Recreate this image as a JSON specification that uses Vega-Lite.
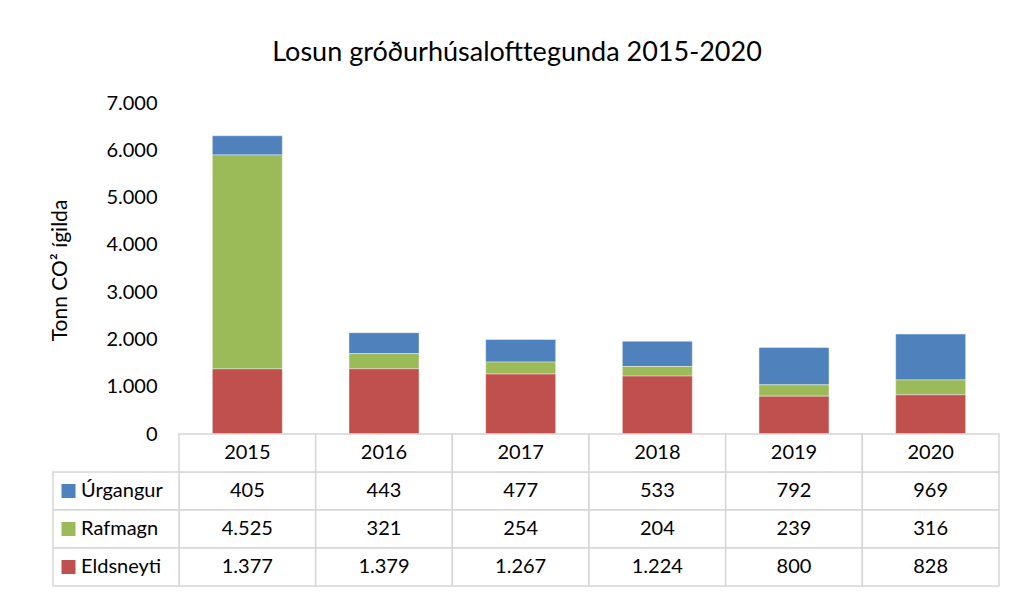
{
  "$schema": "https://vega.github.io/schema/vega-lite/v6.json",
  "width": 946,
  "height": 483,
  "autosize": {"type": "none"},
  "padding": {"left": 53, "top": 103, "right": 15, "bottom": 7},
  "config": {
    "locale": {"number": {"decimal": ",", "thousands": ".", "grouping": [3], "currency": ["", ""]}},
    "font": "Lato",
    "view": {"stroke": null}
  },
  "title": {
    "text": "Losun gróðurhúsalofttegunda 2015-2020",
    "fontSize": 27, "fontWeight": "normal", "font": "Lato", "color": "#000000",
    "anchor": "middle", "frame": "group", "baseline": "alphabetic", "offset": 5, "dx": -9
  },
  "data": {"values": [
    {"series": "Úrgangur", "year": "2015", "value": 405},
    {"series": "Úrgangur", "year": "2016", "value": 443},
    {"series": "Úrgangur", "year": "2017", "value": 477},
    {"series": "Úrgangur", "year": "2018", "value": 533},
    {"series": "Úrgangur", "year": "2019", "value": 792},
    {"series": "Úrgangur", "year": "2020", "value": 969},
    {"series": "Rafmagn", "year": "2015", "value": 4525},
    {"series": "Rafmagn", "year": "2016", "value": 321},
    {"series": "Rafmagn", "year": "2017", "value": 254},
    {"series": "Rafmagn", "year": "2018", "value": 204},
    {"series": "Rafmagn", "year": "2019", "value": 239},
    {"series": "Rafmagn", "year": "2020", "value": 316},
    {"series": "Eldsneyti", "year": "2015", "value": 1377},
    {"series": "Eldsneyti", "year": "2016", "value": 1379},
    {"series": "Eldsneyti", "year": "2017", "value": 1267},
    {"series": "Eldsneyti", "year": "2018", "value": 1224},
    {"series": "Eldsneyti", "year": "2019", "value": 800},
    {"series": "Eldsneyti", "year": "2020", "value": 828}
  ]},
  "resolve": {"scale": {"x": "independent", "y": "independent"}},
  "layer": [
    {
      "mark": {"type": "bar", "width": {"band": 0.512}, "stroke": "#ffffff", "strokeWidth": 0.8, "strokeOpacity": 0.5},
      "encoding": {
        "x": {"field": "year", "type": "nominal", "scale": {"domain": ["2015","2016","2017","2018","2019","2020"], "range": [126, 946], "paddingInner": 0, "paddingOuter": 0}, "axis": null},
        "y": {"field": "value", "type": "quantitative", "stack": "zero",
              "scale": {"domain": [0, 7000], "range": [331, 0], "nice": false, "zero": true},
              "axis": {"values": [0,1000,2000,3000,4000,5000,6000,7000], "format": ",d", "domain": false, "ticks": false, "tickSize": 0, "grid": false,
                       "offset": -126, "labelPadding": 22, "labelFontSize": 20, "labelColor": "#000000", "labelFont": "Lato", "labelFlush": false,
                       "title": "Tonn CO² ígilda", "titleFontSize": 21, "titleFontWeight": "normal", "titleColor": "#000000", "titleFont": "Lato", "titlePadding": 35, "titleY": 167}},
        "color": {"field": "series", "type": "nominal", "scale": {"domain": ["Úrgangur","Rafmagn","Eldsneyti"], "range": ["#4f81bd","#9bbb59","#c0504d"]}, "legend": null},
        "order": {"field": "series", "type": "nominal", "sort": "ascending"}
      }
    },
    {
      "mark": {"type": "rect", "fill": "#ffffff", "stroke": "#d6d6d6", "strokeWidth": 1.5},
      "encoding": {
        "x": {"field": "year", "type": "nominal", "scale": {"domain": ["2015","2016","2017","2018","2019","2020"], "range": [126, 946], "paddingInner": 0, "paddingOuter": 0}, "axis": null},
        "y": {"field": "series", "type": "nominal", "scale": {"domain": ["header","Úrgangur","Rafmagn","Eldsneyti"], "range": [331, 483], "paddingInner": 0, "paddingOuter": 0}, "axis": null}
      }
    },
    {
      "mark": {"type": "text", "fontSize": 20, "font": "Lato", "color": "#000000", "align": "center", "baseline": "middle"},
      "encoding": {
        "x": {"field": "year", "type": "nominal", "scale": {"domain": ["2015","2016","2017","2018","2019","2020"], "range": [126, 946], "paddingInner": 0, "paddingOuter": 0}, "axis": null},
        "y": {"field": "series", "type": "nominal", "scale": {"domain": ["header","Úrgangur","Rafmagn","Eldsneyti"], "range": [331, 483], "paddingInner": 0, "paddingOuter": 0}, "axis": null},
        "text": {"field": "value", "type": "quantitative", "format": ",d"}
      }
    },
    {
      "transform": [{"aggregate": [{"op": "count", "as": "n"}], "groupby": ["year"]}],
      "mark": {"type": "rect", "fill": "#ffffff", "stroke": "#d6d6d6", "strokeWidth": 1.5},
      "encoding": {
        "x": {"field": "year", "type": "nominal", "scale": {"domain": ["2015","2016","2017","2018","2019","2020"], "range": [126, 946], "paddingInner": 0, "paddingOuter": 0}, "axis": null},
        "y": {"datum": "header", "type": "nominal", "scale": {"domain": ["header","Úrgangur","Rafmagn","Eldsneyti"], "range": [331, 483], "paddingInner": 0, "paddingOuter": 0}, "axis": null}
      }
    },
    {
      "transform": [{"aggregate": [{"op": "count", "as": "n"}], "groupby": ["year"]}],
      "mark": {"type": "text", "fontSize": 20, "font": "Lato", "color": "#000000", "align": "center", "baseline": "middle"},
      "encoding": {
        "x": {"field": "year", "type": "nominal", "scale": {"domain": ["2015","2016","2017","2018","2019","2020"], "range": [126, 946], "paddingInner": 0, "paddingOuter": 0}, "axis": null},
        "y": {"datum": "header", "type": "nominal", "scale": {"domain": ["header","Úrgangur","Rafmagn","Eldsneyti"], "range": [331, 483], "paddingInner": 0, "paddingOuter": 0}, "axis": null},
        "text": {"field": "year", "type": "nominal"}
      }
    },
    {
      "transform": [{"aggregate": [{"op": "count", "as": "n"}], "groupby": ["series"]}],
      "mark": {"type": "rect", "fill": "#ffffff", "stroke": "#d6d6d6", "strokeWidth": 1.5},
      "encoding": {
        "x": {"datum": "label", "type": "nominal", "scale": {"domain": ["label"], "range": [0, 126], "paddingInner": 0, "paddingOuter": 0}, "axis": null},
        "y": {"field": "series", "type": "nominal", "scale": {"domain": ["header","Úrgangur","Rafmagn","Eldsneyti"], "range": [331, 483], "paddingInner": 0, "paddingOuter": 0}, "axis": null}
      }
    },
    {
      "transform": [{"aggregate": [{"op": "count", "as": "n"}], "groupby": ["series"]}],
      "mark": {"type": "point", "shape": "square", "filled": true, "opacity": 1, "size": 196},
      "encoding": {
        "x": {"datum": "label", "type": "nominal", "scale": {"domain": ["label"], "range": [0, 31], "paddingInner": 0, "paddingOuter": 0}, "axis": null},
        "y": {"field": "series", "type": "nominal", "scale": {"domain": ["header","Úrgangur","Rafmagn","Eldsneyti"], "range": [331, 483], "paddingInner": 0, "paddingOuter": 0}, "axis": null},
        "color": {"field": "series", "type": "nominal", "scale": {"domain": ["Úrgangur","Rafmagn","Eldsneyti"], "range": ["#4f81bd","#9bbb59","#c0504d"]}, "legend": null}
      }
    },
    {
      "transform": [{"aggregate": [{"op": "count", "as": "n"}], "groupby": ["series"]}],
      "mark": {"type": "text", "fontSize": 20, "font": "Lato", "color": "#000000", "align": "left", "baseline": "middle"},
      "encoding": {
        "x": {"datum": "label", "type": "nominal", "scale": {"domain": ["label"], "range": [0, 56], "paddingInner": 0, "paddingOuter": 0}, "axis": null},
        "y": {"field": "series", "type": "nominal", "scale": {"domain": ["header","Úrgangur","Rafmagn","Eldsneyti"], "range": [331, 483], "paddingInner": 0, "paddingOuter": 0}, "axis": null},
        "text": {"field": "series", "type": "nominal"}
      }
    }
  ]
}
